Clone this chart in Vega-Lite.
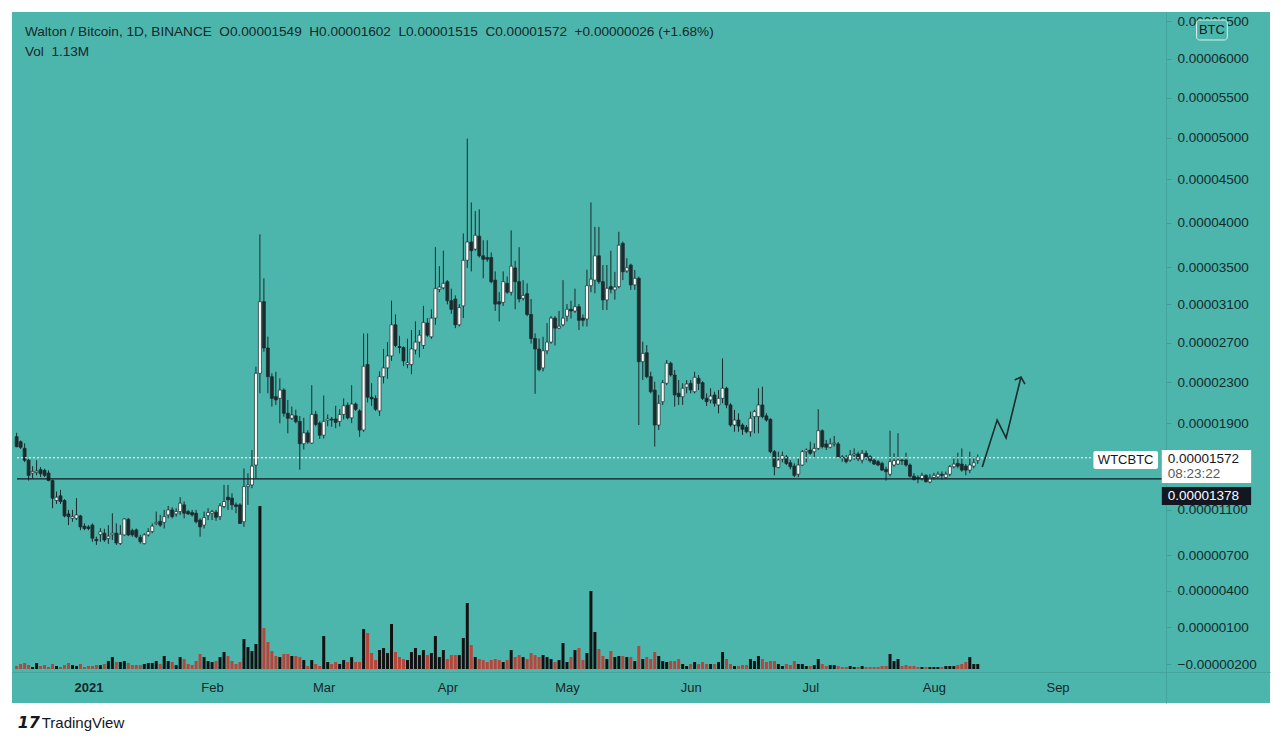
{
  "$schema": "https://vega.github.io/schema/vega-lite/v6.json",
  "width": 1258,
  "height": 691,
  "autosize": {"type": "none"},
  "padding": {"left": 12, "top": 12, "right": 10, "bottom": 42},
  "background": "white",
  "config": {"view": {"fill": "#4db6ac", "stroke": null}, "font": "Liberation Sans"},
  "datasets": {
    "candles": [
      {"t":"2020-12-14","o":1771,"h":1808,"l":1671,"c":1676,"v":0.68},
      {"t":"2020-12-15","o":1723,"h":1735,"l":1655,"c":1670,"v":1.13},
      {"t":"2020-12-16","o":1661,"h":1708,"l":1532,"c":1549,"v":1.36},
      {"t":"2020-12-17","o":1550,"h":1560,"l":1362,"c":1409,"v":0.9},
      {"t":"2020-12-18","o":1430,"h":1494,"l":1384,"c":1446,"v":0.45},
      {"t":"2020-12-19","o":1437,"h":1549,"l":1409,"c":1449,"v":1.36},
      {"t":"2020-12-20","o":1462,"h":1487,"l":1393,"c":1424,"v":0.68},
      {"t":"2020-12-21","o":1456,"h":1470,"l":1395,"c":1409,"v":0.9},
      {"t":"2020-12-22","o":1431,"h":1456,"l":1356,"c":1362,"v":0.45},
      {"t":"2020-12-23","o":1362,"h":1370,"l":1112,"c":1202,"v":1.13},
      {"t":"2020-12-24","o":1181,"h":1262,"l":1150,"c":1211,"v":0.68},
      {"t":"2020-12-25","o":1223,"h":1277,"l":1150,"c":1172,"v":0.45},
      {"t":"2020-12-26","o":1181,"h":1193,"l":1031,"c":1043,"v":0.9},
      {"t":"2020-12-27","o":1061,"h":1097,"l":962,"c":1037,"v":1.36},
      {"t":"2020-12-28","o":1022,"h":1097,"l":992,"c":1037,"v":0.9},
      {"t":"2020-12-29","o":1022,"h":1202,"l":1007,"c":1052,"v":0.68},
      {"t":"2020-12-30","o":1043,"h":1052,"l":917,"c":946,"v":1.13},
      {"t":"2020-12-31","o":953,"h":977,"l":917,"c":932,"v":0.45},
      {"t":"2021-01-01","o":946,"h":962,"l":917,"c":932,"v":0.68},
      {"t":"2021-01-02","o":962,"h":977,"l":816,"c":847,"v":0.68},
      {"t":"2021-01-03","o":838,"h":861,"l":789,"c":825,"v":0.9},
      {"t":"2021-01-04","o":879,"h":935,"l":816,"c":903,"v":0.9},
      {"t":"2021-01-05","o":891,"h":930,"l":816,"c":832,"v":1.13},
      {"t":"2021-01-06","o":844,"h":962,"l":798,"c":865,"v":1.81},
      {"t":"2021-01-07","o":877,"h":1067,"l":832,"c":891,"v":2.71},
      {"t":"2021-01-08","o":891,"h":977,"l":789,"c":806,"v":1.58},
      {"t":"2021-01-09","o":801,"h":962,"l":789,"c":882,"v":1.58},
      {"t":"2021-01-10","o":876,"h":1022,"l":870,"c":1016,"v":1.81},
      {"t":"2021-01-11","o":1013,"h":1025,"l":865,"c":876,"v":1.36},
      {"t":"2021-01-12","o":914,"h":930,"l":860,"c":876,"v":0.9},
      {"t":"2021-01-13","o":920,"h":932,"l":847,"c":861,"v":0.9},
      {"t":"2021-01-14","o":855,"h":877,"l":800,"c":818,"v":0.9},
      {"t":"2021-01-15","o":800,"h":891,"l":794,"c":876,"v":1.13},
      {"t":"2021-01-16","o":876,"h":935,"l":861,"c":905,"v":1.36},
      {"t":"2021-01-17","o":905,"h":977,"l":891,"c":953,"v":1.36},
      {"t":"2021-01-18","o":975,"h":1082,"l":962,"c":986,"v":1.81},
      {"t":"2021-01-19","o":995,"h":1052,"l":946,"c":962,"v":1.13},
      {"t":"2021-01-20","o":986,"h":1097,"l":932,"c":1037,"v":2.94},
      {"t":"2021-01-21","o":1052,"h":1133,"l":1022,"c":1097,"v":1.81},
      {"t":"2021-01-22","o":1097,"h":1120,"l":1022,"c":1037,"v":1.58},
      {"t":"2021-01-23","o":1061,"h":1112,"l":1037,"c":1082,"v":0.9},
      {"t":"2021-01-24","o":1082,"h":1211,"l":1052,"c":1157,"v":2.71},
      {"t":"2021-01-25","o":1142,"h":1172,"l":1022,"c":1067,"v":2.26},
      {"t":"2021-01-26","o":1082,"h":1097,"l":1052,"c":1061,"v":1.13},
      {"t":"2021-01-27","o":1073,"h":1097,"l":1037,"c":1052,"v":0.9},
      {"t":"2021-01-28","o":1067,"h":1097,"l":977,"c":992,"v":1.81},
      {"t":"2021-01-29","o":1007,"h":1022,"l":861,"c":946,"v":3.39},
      {"t":"2021-01-30","o":962,"h":1082,"l":932,"c":1028,"v":2.71},
      {"t":"2021-01-31","o":1046,"h":1112,"l":1007,"c":1073,"v":1.81},
      {"t":"2021-02-01","o":1067,"h":1097,"l":1007,"c":1082,"v":1.58},
      {"t":"2021-02-02","o":1076,"h":1097,"l":1000,"c":1031,"v":1.81},
      {"t":"2021-02-03","o":1037,"h":1157,"l":1007,"c":1133,"v":2.71},
      {"t":"2021-02-04","o":1127,"h":1322,"l":1112,"c":1172,"v":3.84},
      {"t":"2021-02-05","o":1211,"h":1322,"l":1097,"c":1187,"v":2.94},
      {"t":"2021-02-06","o":1202,"h":1247,"l":1097,"c":1142,"v":1.81},
      {"t":"2021-02-07","o":1142,"h":1163,"l":1067,"c":1127,"v":1.13},
      {"t":"2021-02-08","o":1142,"h":1157,"l":971,"c":977,"v":1.58},
      {"t":"2021-02-09","o":992,"h":1474,"l":946,"c":1307,"v":6.78},
      {"t":"2021-02-10","o":1307,"h":1428,"l":1142,"c":1322,"v":4.97},
      {"t":"2021-02-11","o":1322,"h":1645,"l":1292,"c":1495,"v":4.07},
      {"t":"2021-02-12","o":1505,"h":2455,"l":1384,"c":2389,"v":5.65},
      {"t":"2021-02-13","o":2389,"h":3866,"l":2190,"c":3128,"v":36.84},
      {"t":"2021-02-14","o":3128,"h":3380,"l":2607,"c":2645,"v":9.27},
      {"t":"2021-02-15","o":2645,"h":2762,"l":2190,"c":2355,"v":6.1},
      {"t":"2021-02-16","o":2355,"h":2389,"l":2060,"c":2141,"v":4.07},
      {"t":"2021-02-17","o":2157,"h":2405,"l":2076,"c":2125,"v":2.94},
      {"t":"2021-02-18","o":2141,"h":2339,"l":1898,"c":2223,"v":2.71},
      {"t":"2021-02-19","o":2223,"h":2240,"l":1962,"c":1995,"v":3.39},
      {"t":"2021-02-20","o":1995,"h":2125,"l":1803,"c":1947,"v":3.39},
      {"t":"2021-02-21","o":1947,"h":2060,"l":1930,"c":1979,"v":2.94},
      {"t":"2021-02-22","o":1970,"h":2030,"l":1898,"c":1914,"v":2.94},
      {"t":"2021-02-23","o":1917,"h":1968,"l":1462,"c":1704,"v":2.71},
      {"t":"2021-02-24","o":1704,"h":1951,"l":1649,"c":1807,"v":2.03},
      {"t":"2021-02-25","o":1807,"h":1833,"l":1704,"c":1720,"v":0.68},
      {"t":"2021-02-26","o":1710,"h":2270,"l":1704,"c":1984,"v":2.03},
      {"t":"2021-02-27","o":1984,"h":2018,"l":1871,"c":1888,"v":1.13},
      {"t":"2021-02-28","o":1900,"h":1917,"l":1750,"c":1785,"v":0.68},
      {"t":"2021-03-01","o":1785,"h":2168,"l":1753,"c":1917,"v":7.46},
      {"t":"2021-03-02","o":1927,"h":1984,"l":1870,"c":1940,"v":1.58},
      {"t":"2021-03-03","o":1940,"h":1960,"l":1865,"c":1930,"v":1.13},
      {"t":"2021-03-04","o":1940,"h":2068,"l":1851,"c":1907,"v":1.58},
      {"t":"2021-03-05","o":1917,"h":2035,"l":1868,"c":1984,"v":1.13},
      {"t":"2021-03-06","o":1984,"h":2140,"l":1936,"c":2068,"v":2.03},
      {"t":"2021-03-07","o":2074,"h":2100,"l":1936,"c":1951,"v":1.58},
      {"t":"2021-03-08","o":1951,"h":2270,"l":1900,"c":2085,"v":2.71},
      {"t":"2021-03-09","o":2085,"h":2100,"l":2018,"c":2034,"v":1.58},
      {"t":"2021-03-10","o":2018,"h":2034,"l":1769,"c":1834,"v":1.58},
      {"t":"2021-03-11","o":1834,"h":2795,"l":1818,"c":2460,"v":9.04},
      {"t":"2021-03-12","o":2477,"h":2795,"l":2100,"c":2152,"v":8.14},
      {"t":"2021-03-13","o":2152,"h":2290,"l":2068,"c":2135,"v":3.62},
      {"t":"2021-03-14","o":2140,"h":2170,"l":2018,"c":2034,"v":2.03},
      {"t":"2021-03-15","o":2018,"h":2408,"l":1968,"c":2355,"v":4.29},
      {"t":"2021-03-16","o":2355,"h":2635,"l":2288,"c":2443,"v":4.75},
      {"t":"2021-03-17","o":2443,"h":2705,"l":2335,"c":2564,"v":3.62},
      {"t":"2021-03-18","o":2564,"h":3139,"l":2513,"c":2885,"v":10.17},
      {"t":"2021-03-19","o":2885,"h":2993,"l":2653,"c":2671,"v":3.84},
      {"t":"2021-03-20","o":2660,"h":2770,"l":2590,"c":2650,"v":2.71},
      {"t":"2021-03-21","o":2650,"h":2660,"l":2460,"c":2513,"v":2.26},
      {"t":"2021-03-22","o":2477,"h":2740,"l":2440,"c":2495,"v":2.03},
      {"t":"2021-03-23","o":2477,"h":2830,"l":2380,"c":2635,"v":3.84},
      {"t":"2021-03-24","o":2625,"h":2920,"l":2580,"c":2706,"v":4.75},
      {"t":"2021-03-25","o":2706,"h":2830,"l":2550,"c":2777,"v":3.16},
      {"t":"2021-03-26","o":2671,"h":3084,"l":2635,"c":2910,"v":4.29},
      {"t":"2021-03-27","o":2903,"h":2955,"l":2760,"c":2777,"v":3.16},
      {"t":"2021-03-28","o":2760,"h":3048,"l":2740,"c":2955,"v":3.62},
      {"t":"2021-03-29","o":2955,"h":3722,"l":2885,"c":3268,"v":7.46},
      {"t":"2021-03-30","o":3260,"h":3512,"l":3230,"c":3285,"v":2.71},
      {"t":"2021-03-31","o":3277,"h":3683,"l":3260,"c":3325,"v":4.29},
      {"t":"2021-04-01","o":3343,"h":3360,"l":3100,"c":3139,"v":2.26},
      {"t":"2021-04-02","o":3139,"h":3268,"l":3000,"c":3048,"v":3.16},
      {"t":"2021-04-03","o":3157,"h":3195,"l":2850,"c":2885,"v":3.16},
      {"t":"2021-04-04","o":2885,"h":3103,"l":2868,"c":3066,"v":3.16},
      {"t":"2021-04-05","o":3084,"h":3876,"l":2955,"c":3577,"v":7.01},
      {"t":"2021-04-06","o":3577,"h":4990,"l":3493,"c":3780,"v":14.92},
      {"t":"2021-04-07","o":3780,"h":4230,"l":3455,"c":3683,"v":5.42},
      {"t":"2021-04-08","o":3700,"h":4130,"l":3683,"c":3856,"v":2.71},
      {"t":"2021-04-09","o":3845,"h":4150,"l":3607,"c":3626,"v":2.26},
      {"t":"2021-04-10","o":3626,"h":3800,"l":3380,"c":3588,"v":2.03},
      {"t":"2021-04-11","o":3607,"h":3800,"l":3560,"c":3588,"v":1.58},
      {"t":"2021-04-12","o":3607,"h":3664,"l":3325,"c":3343,"v":2.03},
      {"t":"2021-04-13","o":3360,"h":3455,"l":3030,"c":3103,"v":2.26},
      {"t":"2021-04-14","o":3128,"h":3230,"l":2920,"c":3103,"v":2.03},
      {"t":"2021-04-15","o":3121,"h":3455,"l":3084,"c":3343,"v":1.58},
      {"t":"2021-04-16","o":3325,"h":3400,"l":3213,"c":3230,"v":2.03},
      {"t":"2021-04-17","o":3230,"h":3910,"l":3195,"c":3512,"v":4.29},
      {"t":"2021-04-18","o":3493,"h":3570,"l":3048,"c":3343,"v":2.71},
      {"t":"2021-04-19","o":3343,"h":3722,"l":3121,"c":3157,"v":3.16},
      {"t":"2021-04-20","o":3165,"h":3360,"l":3140,"c":3195,"v":2.71},
      {"t":"2021-04-21","o":3213,"h":3325,"l":2975,"c":2993,"v":2.26},
      {"t":"2021-04-22","o":2993,"h":3157,"l":2690,"c":2742,"v":3.62},
      {"t":"2021-04-23","o":2742,"h":2795,"l":2185,"c":2635,"v":3.16},
      {"t":"2021-04-24","o":2635,"h":2742,"l":2408,"c":2425,"v":2.71},
      {"t":"2021-04-25","o":2443,"h":2760,"l":2408,"c":2617,"v":3.16},
      {"t":"2021-04-26","o":2617,"h":2903,"l":2582,"c":2706,"v":2.71},
      {"t":"2021-04-27","o":2706,"h":2975,"l":2688,"c":2955,"v":2.26},
      {"t":"2021-04-28","o":2955,"h":2975,"l":2671,"c":2850,"v":1.58},
      {"t":"2021-04-29","o":2850,"h":3030,"l":2840,"c":2870,"v":2.03},
      {"t":"2021-04-30","o":2885,"h":3360,"l":2868,"c":2955,"v":5.88},
      {"t":"2021-05-01","o":2975,"h":3103,"l":2920,"c":3048,"v":1.58},
      {"t":"2021-05-02","o":3048,"h":3139,"l":2950,"c":3030,"v":2.71},
      {"t":"2021-05-03","o":3030,"h":3268,"l":3010,"c":3075,"v":4.29},
      {"t":"2021-05-04","o":3075,"h":3103,"l":2830,"c":2932,"v":4.75},
      {"t":"2021-05-05","o":2955,"h":2993,"l":2868,"c":2932,"v":2.03},
      {"t":"2021-05-06","o":2945,"h":3474,"l":2868,"c":3300,"v":3.62},
      {"t":"2021-05-07","o":3300,"h":4230,"l":3230,"c":3370,"v":17.63},
      {"t":"2021-05-08","o":3360,"h":3950,"l":3218,"c":3626,"v":8.36},
      {"t":"2021-05-09","o":3626,"h":3950,"l":3320,"c":3343,"v":4.52},
      {"t":"2021-05-10","o":3343,"h":3525,"l":3040,"c":3147,"v":2.94},
      {"t":"2021-05-11","o":3147,"h":3525,"l":3040,"c":3272,"v":2.26},
      {"t":"2021-05-12","o":3290,"h":3683,"l":3218,"c":3262,"v":4.07},
      {"t":"2021-05-13","o":3255,"h":3450,"l":3150,"c":3285,"v":2.71},
      {"t":"2021-05-14","o":3290,"h":3895,"l":3272,"c":3745,"v":2.94},
      {"t":"2021-05-15","o":3765,"h":3785,"l":3360,"c":3451,"v":2.94},
      {"t":"2021-05-16","o":3460,"h":3600,"l":3440,"c":3495,"v":2.71},
      {"t":"2021-05-17","o":3525,"h":3540,"l":3255,"c":3308,"v":2.71},
      {"t":"2021-05-18","o":3308,"h":3470,"l":3255,"c":3380,"v":1.81},
      {"t":"2021-05-19","o":3380,"h":3398,"l":1882,"c":2506,"v":5.2},
      {"t":"2021-05-20","o":2506,"h":2710,"l":2322,"c":2590,"v":2.26},
      {"t":"2021-05-21","o":2597,"h":2675,"l":2339,"c":2355,"v":2.71},
      {"t":"2021-05-22","o":2355,"h":2405,"l":2190,"c":2206,"v":2.26},
      {"t":"2021-05-23","o":2223,"h":2305,"l":1677,"c":1882,"v":3.84},
      {"t":"2021-05-24","o":1882,"h":2174,"l":1834,"c":2092,"v":2.94},
      {"t":"2021-05-25","o":2108,"h":2322,"l":2076,"c":2295,"v":1.81},
      {"t":"2021-05-26","o":2289,"h":2523,"l":2272,"c":2490,"v":1.58},
      {"t":"2021-05-27","o":2490,"h":2506,"l":2355,"c":2372,"v":1.81},
      {"t":"2021-05-28","o":2372,"h":2422,"l":2060,"c":2174,"v":1.81},
      {"t":"2021-05-29","o":2190,"h":2322,"l":2076,"c":2157,"v":2.26},
      {"t":"2021-05-30","o":2157,"h":2290,"l":2076,"c":2240,"v":1.13},
      {"t":"2021-05-31","o":2250,"h":2322,"l":2190,"c":2282,"v":0.68},
      {"t":"2021-06-01","o":2289,"h":2322,"l":2190,"c":2223,"v":1.13},
      {"t":"2021-06-02","o":2206,"h":2405,"l":2190,"c":2349,"v":1.58},
      {"t":"2021-06-03","o":2339,"h":2372,"l":2223,"c":2289,"v":1.13},
      {"t":"2021-06-04","o":2295,"h":2310,"l":2125,"c":2141,"v":1.58},
      {"t":"2021-06-05","o":2141,"h":2190,"l":2066,"c":2108,"v":1.13},
      {"t":"2021-06-06","o":2125,"h":2240,"l":2092,"c":2163,"v":1.13},
      {"t":"2021-06-07","o":2174,"h":2206,"l":2060,"c":2092,"v":1.13},
      {"t":"2021-06-08","o":2076,"h":2223,"l":1995,"c":2141,"v":1.58},
      {"t":"2021-06-09","o":2141,"h":2540,"l":2092,"c":2240,"v":3.84},
      {"t":"2021-06-10","o":2240,"h":2255,"l":2044,"c":2076,"v":2.26},
      {"t":"2021-06-11","o":2076,"h":2092,"l":1866,"c":1882,"v":1.13},
      {"t":"2021-06-12","o":1882,"h":2028,"l":1818,"c":1930,"v":0.68},
      {"t":"2021-06-13","o":1930,"h":1995,"l":1818,"c":1872,"v":0.68},
      {"t":"2021-06-14","o":1882,"h":1898,"l":1787,"c":1841,"v":0.9},
      {"t":"2021-06-15","o":1860,"h":1882,"l":1803,"c":1818,"v":0.9},
      {"t":"2021-06-16","o":1818,"h":2011,"l":1771,"c":1947,"v":2.26},
      {"t":"2021-06-17","o":1963,"h":2028,"l":1803,"c":2011,"v":1.81},
      {"t":"2021-06-18","o":1963,"h":2240,"l":1803,"c":2076,"v":2.94},
      {"t":"2021-06-19","o":2076,"h":2255,"l":1947,"c":1963,"v":2.26},
      {"t":"2021-06-20","o":1970,"h":1995,"l":1914,"c":1930,"v":1.58},
      {"t":"2021-06-21","o":1937,"h":1947,"l":1614,"c":1629,"v":1.81},
      {"t":"2021-06-22","o":1629,"h":1645,"l":1410,"c":1489,"v":1.81},
      {"t":"2021-06-23","o":1482,"h":1629,"l":1474,"c":1551,"v":1.13},
      {"t":"2021-06-24","o":1561,"h":1630,"l":1530,"c":1592,"v":0.68},
      {"t":"2021-06-25","o":1580,"h":1598,"l":1505,"c":1520,"v":1.13},
      {"t":"2021-06-26","o":1526,"h":1551,"l":1465,"c":1489,"v":0.9},
      {"t":"2021-06-27","o":1495,"h":1520,"l":1393,"c":1410,"v":1.81},
      {"t":"2021-06-28","o":1420,"h":1567,"l":1393,"c":1505,"v":1.13},
      {"t":"2021-06-29","o":1505,"h":1645,"l":1498,"c":1629,"v":1.13},
      {"t":"2021-06-30","o":1629,"h":1660,"l":1530,"c":1645,"v":0.68},
      {"t":"2021-07-01","o":1645,"h":1723,"l":1598,"c":1614,"v":0.68},
      {"t":"2021-07-02","o":1629,"h":1708,"l":1567,"c":1660,"v":0.9},
      {"t":"2021-07-03","o":1660,"h":2034,"l":1645,"c":1828,"v":2.26},
      {"t":"2021-07-04","o":1828,"h":1840,"l":1660,"c":1677,"v":1.13},
      {"t":"2021-07-05","o":1702,"h":1740,"l":1645,"c":1671,"v":0.68},
      {"t":"2021-07-06","o":1671,"h":1755,"l":1660,"c":1702,"v":0.9},
      {"t":"2021-07-07","o":1702,"h":1777,"l":1677,"c":1710,"v":0.9},
      {"t":"2021-07-08","o":1702,"h":1720,"l":1567,"c":1580,"v":0.68},
      {"t":"2021-07-09","o":1580,"h":1598,"l":1536,"c":1570,"v":0.45},
      {"t":"2021-07-10","o":1576,"h":1598,"l":1520,"c":1536,"v":0.45},
      {"t":"2021-07-11","o":1551,"h":1645,"l":1536,"c":1598,"v":0.68},
      {"t":"2021-07-12","o":1598,"h":1660,"l":1551,"c":1608,"v":0.45},
      {"t":"2021-07-13","o":1608,"h":1630,"l":1540,"c":1561,"v":0.45},
      {"t":"2021-07-14","o":1551,"h":1645,"l":1520,"c":1614,"v":0.68},
      {"t":"2021-07-15","o":1614,"h":1640,"l":1551,"c":1576,"v":0.45},
      {"t":"2021-07-16","o":1583,"h":1598,"l":1526,"c":1545,"v":0.45},
      {"t":"2021-07-17","o":1551,"h":1567,"l":1505,"c":1514,"v":0.45},
      {"t":"2021-07-18","o":1536,"h":1551,"l":1495,"c":1505,"v":0.45},
      {"t":"2021-07-19","o":1520,"h":1536,"l":1452,"c":1458,"v":0.68},
      {"t":"2021-07-20","o":1465,"h":1489,"l":1362,"c":1443,"v":0.68},
      {"t":"2021-07-21","o":1420,"h":1828,"l":1400,"c":1536,"v":3.39},
      {"t":"2021-07-22","o":1505,"h":1614,"l":1489,"c":1545,"v":1.81},
      {"t":"2021-07-23","o":1514,"h":1803,"l":1505,"c":1551,"v":2.26},
      {"t":"2021-07-24","o":1551,"h":1567,"l":1505,"c":1545,"v":0.68},
      {"t":"2021-07-25","o":1551,"h":1620,"l":1489,"c":1505,"v":0.9},
      {"t":"2021-07-26","o":1505,"h":1520,"l":1390,"c":1402,"v":0.68},
      {"t":"2021-07-27","o":1402,"h":1430,"l":1362,"c":1372,"v":0.68},
      {"t":"2021-07-28","o":1390,"h":1410,"l":1337,"c":1380,"v":0.45},
      {"t":"2021-07-29","o":1380,"h":1433,"l":1362,"c":1410,"v":0.45},
      {"t":"2021-07-30","o":1410,"h":1420,"l":1343,"c":1352,"v":0.45},
      {"t":"2021-07-31","o":1349,"h":1420,"l":1337,"c":1390,"v":0.45},
      {"t":"2021-08-01","o":1390,"h":1433,"l":1372,"c":1410,"v":0.45},
      {"t":"2021-08-02","o":1395,"h":1445,"l":1380,"c":1420,"v":0.45},
      {"t":"2021-08-03","o":1420,"h":1445,"l":1372,"c":1410,"v":0.45},
      {"t":"2021-08-04","o":1390,"h":1445,"l":1375,"c":1420,"v":0.68},
      {"t":"2021-08-05","o":1420,"h":1505,"l":1402,"c":1489,"v":0.68},
      {"t":"2021-08-06","o":1489,"h":1583,"l":1474,"c":1514,"v":0.68},
      {"t":"2021-08-07","o":1520,"h":1620,"l":1474,"c":1495,"v":0.9},
      {"t":"2021-08-08","o":1514,"h":1660,"l":1443,"c":1458,"v":1.13},
      {"t":"2021-08-09","o":1495,"h":1514,"l":1410,"c":1458,"v":1.58},
      {"t":"2021-08-10","o":1458,"h":1629,"l":1430,"c":1505,"v":2.71},
      {"t":"2021-08-11","o":1495,"h":1583,"l":1474,"c":1526,"v":1.13},
      {"t":"2021-08-12","o":1549,"h":1602,"l":1515,"c":1572,"v":1.13}
    ],
    "arrow": [
      {"t":"2021-08-13T03:00:00Z","p":1486,"g":"shaft"},
      {"t":"2021-08-16T20:40:00Z","p":1930,"g":"shaft"},
      {"t":"2021-08-19T02:20:00Z","p":1759,"g":"shaft"},
      {"t":"2021-08-22T20:00:00Z","p":2352,"g":"shaft"},
      {"t":"2021-08-21T06:15:00Z","p":2322,"g":"head"},
      {"t":"2021-08-22T20:00:00Z","p":2352,"g":"head"},
      {"t":"2021-08-23T20:00:00Z","p":2282,"g":"head"}
    ]
  },
  "encoding": {
    "x": {
      "field": "t",
      "type": "temporal",
      "title": null,
      "scale": {
        "type": "utc",
        "domain": [
          {"year": 2020, "month": 12, "date": 14, "hours": 2, "minutes": 10, "utc": true},
          {"year": 2021, "month": 10, "date": 23, "hours": 0, "minutes": 30, "utc": true}
        ]
      },
      "axis": {
        "orient": "bottom",
        "offset": -31,
        "values": [
          {"year": 2021, "month": 1, "date": 1, "utc": true},
          {"year": 2021, "month": 2, "date": 1, "utc": true},
          {"year": 2021, "month": 3, "date": 1, "utc": true},
          {"year": 2021, "month": 4, "date": 1, "utc": true},
          {"year": 2021, "month": 5, "date": 1, "utc": true},
          {"year": 2021, "month": 6, "date": 1, "utc": true},
          {"year": 2021, "month": 7, "date": 1, "utc": true},
          {"year": 2021, "month": 8, "date": 1, "utc": true},
          {"year": 2021, "month": 9, "date": 1, "utc": true}
        ],
        "labelExpr": "utcmonth(datum.value) == 0 ? utcFormat(datum.value, '%Y') : utcFormat(datum.value, '%b')",
        "labelFontWeight": {"condition": {"test": "utcmonth(datum.value) == 0", "value": "bold"}, "value": "normal"},
        "ticks": false,
        "grid": false,
        "domainColor": "#43a59b",
        "labelPadding": 9,
        "labelFont": "Liberation Sans",
        "labelFontSize": 13,
        "labelColor": "#16262a",
        "labelFlush": false,
        "labelOverlap": false
      }
    }
  },
  "layer": [
    {
      "data": {"name": "candles"},
      "mark": {"type": "bar", "width": 3},
      "encoding": {
        "y": {"field": "v", "type": "quantitative", "scale": {"domain": [-7.68, 148.47], "nice": false, "zero": false}, "axis": null},
        "y2": {"datum": 0},
        "color": {"condition": {"test": "datum.c >= datum.o", "value": "#121212"}, "value": "#b8443a"}
      }
    },
    {
      "encoding": {
        "y": {
          "field": "l",
          "type": "quantitative",
          "title": null,
          "scale": {"type": "symlog", "constant": 9450, "domain": [-520, 6622], "nice": false, "zero": false},
          "axis": {
            "orient": "right",
            "offset": -104,
            "zindex": 0,
            "values": [-200, 100, 400, 700, 1100, 1900, 2300, 2700, 3100, 3500, 4000, 4500, 5000, 5500, 6000, 6500],
            "labelExpr": "format(datum.value / 1e8, '.8f')",
            "grid": false,
            "tickSize": 5,
            "tickColor": "#3f9e94",
            "domainColor": "#43a59b",
            "labelPadding": 6,
            "labelFont": "Liberation Sans",
            "labelFontSize": 13.5,
            "labelColor": "#132a2b",
            "labelFlush": false,
            "labelOverlap": false,
            "labelBound": false,
            "title": null
          }
        }
      },
      "layer": [
        {
          "data": {"name": "candles"},
          "mark": {"type": "rule", "color": "#1b2a2c", "strokeWidth": 1},
          "encoding": {"y2": {"field": "h"}}
        },
        {
          "data": {"name": "candles"},
          "mark": {"type": "bar", "width": 3, "stroke": "#1b2a2c", "strokeWidth": 0.7},
          "encoding": {
            "y": {"field": "o", "type": "quantitative"},
            "y2": {"field": "c"},
            "fill": {"condition": {"test": "datum.c >= datum.o", "value": "#ffffff"}, "value": "#1e2b2e"}
          }
        },
        {
          "data": {"values": [{"t": "2020-12-14T02:10:00Z", "t2": "2021-09-10T00:00:00Z", "l": 1572}]},
          "mark": {"type": "rule", "color": "#ffffff", "strokeWidth": 1, "strokeDash": [2, 2]},
          "encoding": {"x2": {"field": "t2"}}
        },
        {
          "data": {"values": [{"t": "2020-12-14T02:10:00Z", "t2": "2021-09-27T03:36:00Z", "l": 1378}]},
          "mark": {"type": "rule", "color": "#131722", "strokeWidth": 1.3},
          "encoding": {"x2": {"field": "t2"}}
        },
        {
          "data": {"name": "arrow"},
          "mark": {"type": "line", "color": "#1b2a2c", "strokeWidth": 1.6},
          "encoding": {
            "y": {"field": "p", "type": "quantitative"},
            "detail": {"field": "g"}
          }
        },
        {
          "data": {"values": [{"t": "2021-09-10T00:00:00Z", "t2": "2021-09-26T04:48:00Z", "l": 1636, "p2": 1468}]},
          "mark": {"type": "rect", "fill": "#ffffff", "cornerRadius": 2},
          "encoding": {"x2": {"field": "t2"}, "y2": {"field": "p2"}}
        },
        {
          "data": {"values": [{"t": "2021-09-27T03:36:00Z", "t2": "2021-10-19T13:00:00Z", "l": 1645, "p2": 1340}]},
          "mark": {"type": "rect", "fill": "#ffffff"},
          "encoding": {"x2": {"field": "t2"}, "y2": {"field": "p2"}}
        },
        {
          "data": {"values": [{"t": "2021-09-27T03:36:00Z", "t2": "2021-10-19T13:00:00Z", "l": 1304, "p2": 1141}]},
          "mark": {"type": "rect", "fill": "#131722"},
          "encoding": {"x2": {"field": "t2"}, "y2": {"field": "p2"}}
        },
        {
          "data": {"values": [{"t": "2021-10-05T20:40:00Z", "t2": "2021-10-13T13:40:00Z", "l": 6513, "p2": 6246}]},
          "mark": {"type": "rect", "fill": "#4db6ac", "stroke": "#d8f0ed", "strokeWidth": 1, "cornerRadius": 3},
          "encoding": {"x2": {"field": "t2"}, "y2": {"field": "p2"}}
        },
        {
          "data": {"values": [
            {"t": "2021-09-18T02:00:00Z", "l": 1552, "label": "WTCBTC"},
            {"t": "2021-10-09T17:00:00Z", "l": 6379, "label": "BTC"}
          ]},
          "mark": {"type": "text", "align": "center", "baseline": "middle", "fontSize": 13, "color": "#131722", "font": "Liberation Sans"},
          "encoding": {"text": {"field": "label"}}
        },
        {
          "data": {"values": [{"t": "2021-09-28T15:30:00Z", "l": 1561, "label": "0.00001572"}]},
          "mark": {"type": "text", "align": "left", "baseline": "middle", "fontSize": 13.5, "color": "#131722", "font": "Liberation Sans"},
          "encoding": {"text": {"field": "label"}}
        },
        {
          "data": {"values": [{"t": "2021-09-28T15:30:00Z", "l": 1422, "label": "08:23:22"}]},
          "mark": {"type": "text", "align": "left", "baseline": "middle", "fontSize": 13.5, "color": "#555b60", "font": "Liberation Sans"},
          "encoding": {"text": {"field": "label"}}
        },
        {
          "data": {"values": [{"t": "2021-09-28T15:30:00Z", "l": 1222, "label": "0.00001378"}]},
          "mark": {"type": "text", "align": "left", "baseline": "middle", "fontSize": 13.5, "color": "#ffffff", "font": "Liberation Sans"},
          "encoding": {"text": {"field": "label"}}
        },
        {
          "data": {"values": [
            {"t": "2020-12-16T02:00:00Z", "l": 6352, "label": "Walton / Bitcoin, 1D, BINANCE\u00a0\u00a0O0.00001549\u00a0\u00a0H0.00001602\u00a0\u00a0L0.00001515\u00a0\u00a0C0.00001572\u00a0\u00a0+0.00000026 (+1.68%)"},
            {"t": "2020-12-16T02:00:00Z", "l": 6088, "label": "Vol\u00a0\u00a01.13M"}
          ]},
          "mark": {"type": "text", "align": "left", "baseline": "middle", "fontSize": 13.6, "color": "#16262a", "font": "Liberation Sans"},
          "encoding": {"text": {"field": "label"}}
        },
        {
          "data": {"values": [{"t": "2020-12-14T06:00:00Z", "l": -690, "label": "17"}]},
          "mark": {"type": "text", "align": "left", "baseline": "middle", "fontSize": 16, "fontWeight": 900, "fontStyle": "italic", "color": "#131722", "font": "DejaVu Sans"},
          "encoding": {"text": {"field": "label"}}
        },
        {
          "data": {"values": [{"t": "2020-12-20T07:00:00Z", "l": -690, "label": "TradingView"}]},
          "mark": {"type": "text", "align": "left", "baseline": "middle", "fontSize": 15, "color": "#131722", "font": "Liberation Sans"},
          "encoding": {"text": {"field": "label"}}
        }
      ]
    }
  ],
  "resolve": {"scale": {"y": "independent"}}
}
